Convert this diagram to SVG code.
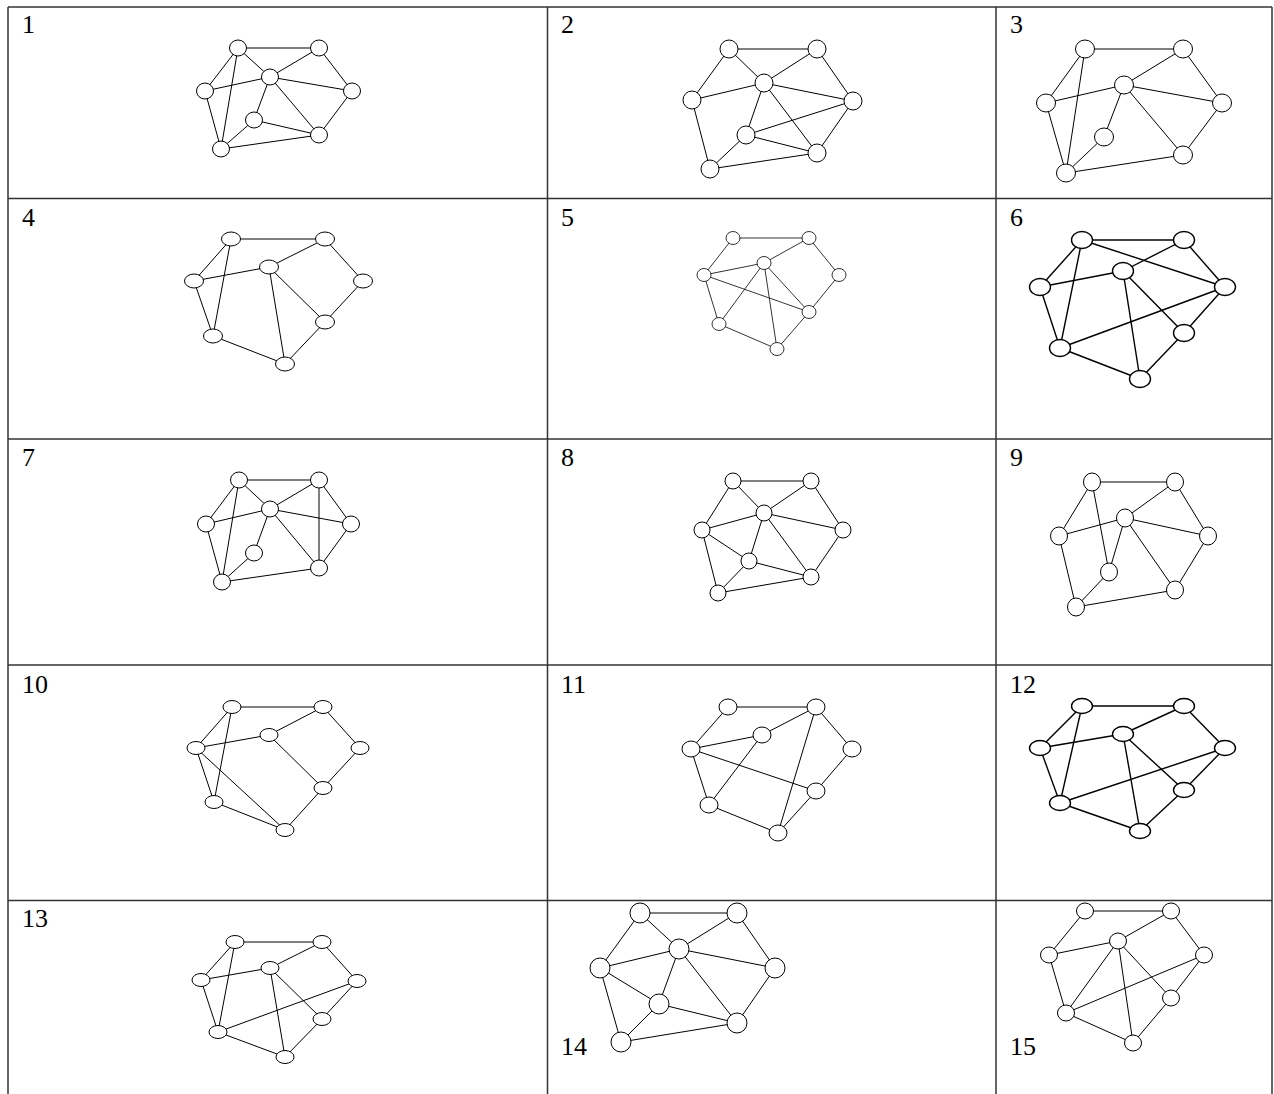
<svg xmlns="http://www.w3.org/2000/svg" width="1274" height="1094" viewBox="0 0 1274 1094">
<style>
.grid{stroke:#333;stroke-width:1.5;fill:none}
.e line{stroke:#000;stroke-width:1}
.n ellipse{fill:#fff;stroke:#000;stroke-width:1}
.thin line{stroke-width:0.8}
.thinn ellipse{stroke-width:0.8}
.thick line{stroke-width:1.4}
.thickn ellipse{stroke-width:1.4}
.lbl{font-family:"Liberation Serif","Times New Roman",serif;font-size:26px;fill:#000}
</style>
<rect width="1274" height="1094" fill="#fff"/>
<g id="table" class="grid">
<line x1="8" y1="7" x2="1272" y2="7"/>
<line x1="8" y1="198.5" x2="1272" y2="198.5"/>
<line x1="8" y1="439" x2="1272" y2="439"/>
<line x1="8" y1="665" x2="1272" y2="665"/>
<line x1="8" y1="900.5" x2="1272" y2="900.5"/>
<line x1="8" y1="7" x2="8" y2="1094"/>
<line x1="547.5" y1="7" x2="547.5" y2="1094"/>
<line x1="996" y1="7" x2="996" y2="1094"/>
<line x1="1272" y1="7" x2="1272" y2="1094"/>
</g>
<g id="labels" class="lbl">
<text x="22" y="33">1</text><text x="561" y="33">2</text><text x="1010" y="33">3</text>
<text x="22" y="226">4</text><text x="561" y="226">5</text><text x="1010" y="226">6</text>
<text x="22" y="466">7</text><text x="561" y="466">8</text><text x="1010" y="466">9</text>
<text x="22" y="693">10</text><text x="561" y="693">11</text><text x="1010" y="693">12</text>
<text x="22" y="927">13</text><text x="561" y="1055">14</text><text x="1010" y="1055">15</text>
</g>

<g id="cell1">
<g id="cell1-connectors" class="e">
<line x1="238" y1="48" x2="319" y2="48"/><line x1="238" y1="48" x2="270" y2="77"/><line x1="238" y1="48" x2="205" y2="91"/><line x1="238" y1="48" x2="221" y2="149"/>
<line x1="205" y1="91" x2="270" y2="77"/><line x1="270" y1="77" x2="319" y2="48"/><line x1="270" y1="77" x2="352" y2="91"/><line x1="319" y1="48" x2="352" y2="91"/>
<line x1="270" y1="77" x2="254" y2="120"/><line x1="270" y1="77" x2="319" y2="135"/><line x1="254" y1="120" x2="221" y2="149"/><line x1="254" y1="120" x2="319" y2="135"/>
<line x1="352" y1="91" x2="319" y2="135"/><line x1="205" y1="91" x2="221" y2="149"/><line x1="221" y1="149" x2="319" y2="135"/>
</g>
<g id="cell1-A" class="n"><ellipse cx="238" cy="48" rx="8.5" ry="8"/></g>
<g id="cell1-B" class="n"><ellipse cx="319" cy="48" rx="8.5" ry="8"/></g>
<g id="cell1-C" class="n"><ellipse cx="270" cy="77" rx="8.5" ry="8"/></g>
<g id="cell1-D" class="n"><ellipse cx="205" cy="91" rx="8.5" ry="8"/></g>
<g id="cell1-E" class="n"><ellipse cx="352" cy="91" rx="8.5" ry="8"/></g>
<g id="cell1-F" class="n"><ellipse cx="254" cy="120" rx="8.5" ry="8"/></g>
<g id="cell1-G" class="n"><ellipse cx="319" cy="135" rx="8.5" ry="8"/></g>
<g id="cell1-H" class="n"><ellipse cx="221" cy="149" rx="8.5" ry="8"/></g>
</g>

<g id="cell2">
<g id="cell2-connectors" class="e">
<line x1="729" y1="49" x2="817" y2="49"/><line x1="729" y1="49" x2="764" y2="83"/><line x1="729" y1="49" x2="692" y2="100"/><line x1="817" y1="49" x2="764" y2="83"/>
<line x1="817" y1="49" x2="853" y2="101"/><line x1="764" y1="83" x2="692" y2="100"/><line x1="764" y1="83" x2="853" y2="101"/><line x1="764" y1="83" x2="746" y2="135"/>
<line x1="764" y1="83" x2="817" y2="153"/><line x1="746" y1="135" x2="853" y2="101"/><line x1="746" y1="135" x2="817" y2="153"/><line x1="746" y1="135" x2="710" y2="169"/>
<line x1="692" y1="100" x2="710" y2="169"/><line x1="853" y1="101" x2="817" y2="153"/><line x1="710" y1="169" x2="817" y2="153"/>
</g>
<g id="cell2-A" class="n"><ellipse cx="729" cy="49" rx="9" ry="9"/></g>
<g id="cell2-B" class="n"><ellipse cx="817" cy="49" rx="9" ry="9"/></g>
<g id="cell2-C" class="n"><ellipse cx="764" cy="83" rx="9" ry="9"/></g>
<g id="cell2-D" class="n"><ellipse cx="692" cy="100" rx="9" ry="9"/></g>
<g id="cell2-E" class="n"><ellipse cx="853" cy="101" rx="9" ry="9"/></g>
<g id="cell2-F" class="n"><ellipse cx="746" cy="135" rx="9" ry="9"/></g>
<g id="cell2-G" class="n"><ellipse cx="817" cy="153" rx="9" ry="9"/></g>
<g id="cell2-H" class="n"><ellipse cx="710" cy="169" rx="9" ry="9"/></g>
</g>

<g id="cell3">
<g id="cell3-connectors" class="e">
<line x1="1085" y1="49" x2="1183" y2="49"/><line x1="1085" y1="49" x2="1046" y2="103"/><line x1="1085" y1="49" x2="1066" y2="173"/><line x1="1183" y1="49" x2="1124" y2="85"/>
<line x1="1183" y1="49" x2="1222" y2="103"/><line x1="1124" y1="85" x2="1046" y2="103"/><line x1="1124" y1="85" x2="1222" y2="103"/><line x1="1124" y1="85" x2="1104" y2="137"/>
<line x1="1124" y1="85" x2="1183" y2="155"/><line x1="1104" y1="137" x2="1066" y2="173"/><line x1="1046" y1="103" x2="1066" y2="173"/><line x1="1222" y1="103" x2="1183" y2="155"/>
<line x1="1066" y1="173" x2="1183" y2="155"/>
</g>
<g id="cell3-A" class="n"><ellipse cx="1085" cy="49" rx="9.5" ry="9"/></g>
<g id="cell3-B" class="n"><ellipse cx="1183" cy="49" rx="9.5" ry="9"/></g>
<g id="cell3-C" class="n"><ellipse cx="1124" cy="85" rx="9.5" ry="9"/></g>
<g id="cell3-D" class="n"><ellipse cx="1046" cy="103" rx="9.5" ry="9"/></g>
<g id="cell3-E" class="n"><ellipse cx="1222" cy="103" rx="9.5" ry="9"/></g>
<g id="cell3-F" class="n"><ellipse cx="1104" cy="137" rx="9.5" ry="9"/></g>
<g id="cell3-G" class="n"><ellipse cx="1183" cy="155" rx="9.5" ry="9"/></g>
<g id="cell3-H" class="n"><ellipse cx="1066" cy="173" rx="9.5" ry="9"/></g>
</g>

<g id="cell4">
<g id="cell4-connectors" class="e">
<line x1="231" y1="239" x2="325" y2="239"/><line x1="231" y1="239" x2="194" y2="281"/><line x1="231" y1="239" x2="213" y2="336"/><line x1="194" y1="281" x2="269" y2="267"/>
<line x1="269" y1="267" x2="325" y2="239"/><line x1="325" y1="239" x2="363" y2="281"/><line x1="363" y1="281" x2="325" y2="322"/><line x1="269" y1="267" x2="325" y2="322"/>
<line x1="269" y1="267" x2="285" y2="364"/><line x1="325" y1="322" x2="285" y2="364"/><line x1="194" y1="281" x2="213" y2="336"/><line x1="213" y1="336" x2="285" y2="364"/>
</g>
<g id="cell4-A" class="n"><ellipse cx="231" cy="239" rx="9.5" ry="7"/></g>
<g id="cell4-B" class="n"><ellipse cx="325" cy="239" rx="9.5" ry="7"/></g>
<g id="cell4-C" class="n"><ellipse cx="269" cy="267" rx="9.5" ry="7"/></g>
<g id="cell4-D" class="n"><ellipse cx="194" cy="281" rx="9.5" ry="7"/></g>
<g id="cell4-E" class="n"><ellipse cx="363" cy="281" rx="9.5" ry="7"/></g>
<g id="cell4-F" class="n"><ellipse cx="325" cy="322" rx="9.5" ry="7"/></g>
<g id="cell4-G" class="n"><ellipse cx="213" cy="336" rx="9.5" ry="7"/></g>
<g id="cell4-H" class="n"><ellipse cx="285" cy="364" rx="9.5" ry="7"/></g>
</g>

<g id="cell5">
<g id="cell5-connectors" class="e thin">
<line x1="733" y1="238" x2="809" y2="238"/><line x1="733" y1="238" x2="704" y2="275"/><line x1="704" y1="275" x2="764" y2="263"/><line x1="764" y1="263" x2="809" y2="238"/>
<line x1="809" y1="238" x2="839" y2="275"/><line x1="839" y1="275" x2="809" y2="312"/><line x1="704" y1="275" x2="809" y2="312"/><line x1="764" y1="263" x2="719" y2="324"/>
<line x1="764" y1="263" x2="777" y2="349"/><line x1="764" y1="263" x2="809" y2="312"/><line x1="704" y1="275" x2="719" y2="324"/><line x1="719" y1="324" x2="777" y2="349"/>
<line x1="809" y1="312" x2="777" y2="349"/>
</g>
<g id="cell5-A" class="n thinn"><ellipse cx="733" cy="238" rx="7" ry="6.5"/></g>
<g id="cell5-B" class="n thinn"><ellipse cx="809" cy="238" rx="7" ry="6.5"/></g>
<g id="cell5-C" class="n thinn"><ellipse cx="764" cy="263" rx="7" ry="6.5"/></g>
<g id="cell5-D" class="n thinn"><ellipse cx="704" cy="275" rx="7" ry="6.5"/></g>
<g id="cell5-E" class="n thinn"><ellipse cx="839" cy="275" rx="7" ry="6.5"/></g>
<g id="cell5-F" class="n thinn"><ellipse cx="809" cy="312" rx="7" ry="6.5"/></g>
<g id="cell5-G" class="n thinn"><ellipse cx="719" cy="324" rx="7" ry="6.5"/></g>
<g id="cell5-H" class="n thinn"><ellipse cx="777" cy="349" rx="7" ry="6.5"/></g>
</g>

<g id="cell6">
<g id="cell6-connectors" class="e thick">
<line x1="1082" y1="240" x2="1184" y2="240"/><line x1="1082" y1="240" x2="1040" y2="287"/><line x1="1082" y1="240" x2="1060" y2="348"/><line x1="1082" y1="240" x2="1225" y2="287"/>
<line x1="1040" y1="287" x2="1123" y2="271"/><line x1="1123" y1="271" x2="1184" y2="240"/><line x1="1184" y1="240" x2="1225" y2="287"/><line x1="1123" y1="271" x2="1140" y2="379"/>
<line x1="1123" y1="271" x2="1184" y2="333"/><line x1="1225" y1="287" x2="1184" y2="333"/><line x1="1225" y1="287" x2="1060" y2="348"/><line x1="1040" y1="287" x2="1060" y2="348"/>
<line x1="1060" y1="348" x2="1140" y2="379"/><line x1="1184" y1="333" x2="1140" y2="379"/>
</g>
<g id="cell6-A" class="n thickn"><ellipse cx="1082" cy="240" rx="10.5" ry="8.5"/></g>
<g id="cell6-B" class="n thickn"><ellipse cx="1184" cy="240" rx="10.5" ry="8.5"/></g>
<g id="cell6-C" class="n thickn"><ellipse cx="1123" cy="271" rx="10.5" ry="8.5"/></g>
<g id="cell6-D" class="n thickn"><ellipse cx="1040" cy="287" rx="10.5" ry="8.5"/></g>
<g id="cell6-E" class="n thickn"><ellipse cx="1225" cy="287" rx="10.5" ry="8.5"/></g>
<g id="cell6-F" class="n thickn"><ellipse cx="1184" cy="333" rx="10.5" ry="8.5"/></g>
<g id="cell6-G" class="n thickn"><ellipse cx="1060" cy="348" rx="10.5" ry="8.5"/></g>
<g id="cell6-H" class="n thickn"><ellipse cx="1140" cy="379" rx="10.5" ry="8.5"/></g>
</g>

<g id="cell7">
<g id="cell7-connectors" class="e">
<line x1="239" y1="480" x2="319" y2="480"/><line x1="239" y1="480" x2="270" y2="509"/><line x1="239" y1="480" x2="206" y2="524"/><line x1="239" y1="480" x2="222" y2="582"/>
<line x1="206" y1="524" x2="270" y2="509"/><line x1="270" y1="509" x2="319" y2="480"/><line x1="270" y1="509" x2="351" y2="524"/><line x1="319" y1="480" x2="351" y2="524"/>
<line x1="319" y1="480" x2="319" y2="568"/><line x1="270" y1="509" x2="254" y2="553"/><line x1="270" y1="509" x2="319" y2="568"/><line x1="254" y1="553" x2="222" y2="582"/>
<line x1="351" y1="524" x2="319" y2="568"/><line x1="206" y1="524" x2="222" y2="582"/><line x1="222" y1="582" x2="319" y2="568"/>
</g>
<g id="cell7-A" class="n"><ellipse cx="239" cy="480" rx="8.5" ry="8"/></g>
<g id="cell7-B" class="n"><ellipse cx="319" cy="480" rx="8.5" ry="8"/></g>
<g id="cell7-C" class="n"><ellipse cx="270" cy="509" rx="8.5" ry="8"/></g>
<g id="cell7-D" class="n"><ellipse cx="206" cy="524" rx="8.5" ry="8"/></g>
<g id="cell7-E" class="n"><ellipse cx="351" cy="524" rx="8.5" ry="8"/></g>
<g id="cell7-F" class="n"><ellipse cx="254" cy="553" rx="8.5" ry="8"/></g>
<g id="cell7-G" class="n"><ellipse cx="319" cy="568" rx="8.5" ry="8"/></g>
<g id="cell7-H" class="n"><ellipse cx="222" cy="582" rx="8.5" ry="8"/></g>
</g>

<g id="cell8">
<g id="cell8-connectors" class="e">
<line x1="733" y1="481" x2="811" y2="481"/><line x1="733" y1="481" x2="764" y2="513"/><line x1="733" y1="481" x2="702" y2="530"/><line x1="811" y1="481" x2="764" y2="513"/>
<line x1="811" y1="481" x2="843" y2="530"/><line x1="764" y1="513" x2="702" y2="530"/><line x1="764" y1="513" x2="843" y2="530"/><line x1="764" y1="513" x2="749" y2="561"/>
<line x1="764" y1="513" x2="811" y2="577"/><line x1="702" y1="530" x2="749" y2="561"/><line x1="702" y1="530" x2="718" y2="593"/><line x1="749" y1="561" x2="718" y2="593"/>
<line x1="749" y1="561" x2="811" y2="577"/><line x1="843" y1="530" x2="811" y2="577"/><line x1="718" y1="593" x2="811" y2="577"/>
</g>
<g id="cell8-A" class="n"><ellipse cx="733" cy="481" rx="8" ry="8"/></g>
<g id="cell8-B" class="n"><ellipse cx="811" cy="481" rx="8" ry="8"/></g>
<g id="cell8-C" class="n"><ellipse cx="764" cy="513" rx="8" ry="8"/></g>
<g id="cell8-D" class="n"><ellipse cx="702" cy="530" rx="8" ry="8"/></g>
<g id="cell8-E" class="n"><ellipse cx="843" cy="530" rx="8" ry="8"/></g>
<g id="cell8-F" class="n"><ellipse cx="749" cy="561" rx="8" ry="8"/></g>
<g id="cell8-G" class="n"><ellipse cx="811" cy="577" rx="8" ry="8"/></g>
<g id="cell8-H" class="n"><ellipse cx="718" cy="593" rx="8" ry="8"/></g>
</g>

<g id="cell9">
<g id="cell9-connectors" class="e">
<line x1="1092" y1="482" x2="1175" y2="482"/><line x1="1092" y1="482" x2="1059" y2="536"/><line x1="1092" y1="482" x2="1109" y2="572"/><line x1="1175" y1="482" x2="1125" y2="518"/>
<line x1="1175" y1="482" x2="1208" y2="536"/><line x1="1125" y1="518" x2="1059" y2="536"/><line x1="1125" y1="518" x2="1208" y2="536"/><line x1="1125" y1="518" x2="1109" y2="572"/>
<line x1="1125" y1="518" x2="1175" y2="590"/><line x1="1109" y1="572" x2="1076" y2="607"/><line x1="1059" y1="536" x2="1076" y2="607"/><line x1="1208" y1="536" x2="1175" y2="590"/>
<line x1="1076" y1="607" x2="1175" y2="590"/>
</g>
<g id="cell9-A" class="n"><ellipse cx="1092" cy="482" rx="8.5" ry="9"/></g>
<g id="cell9-B" class="n"><ellipse cx="1175" cy="482" rx="8.5" ry="9"/></g>
<g id="cell9-C" class="n"><ellipse cx="1125" cy="518" rx="8.5" ry="9"/></g>
<g id="cell9-D" class="n"><ellipse cx="1059" cy="536" rx="8.5" ry="9"/></g>
<g id="cell9-E" class="n"><ellipse cx="1208" cy="536" rx="8.5" ry="9"/></g>
<g id="cell9-F" class="n"><ellipse cx="1109" cy="572" rx="8.5" ry="9"/></g>
<g id="cell9-G" class="n"><ellipse cx="1175" cy="590" rx="8.5" ry="9"/></g>
<g id="cell9-H" class="n"><ellipse cx="1076" cy="607" rx="8.5" ry="9"/></g>
</g>

<g id="cell10">
<g id="cell10-connectors" class="e">
<line x1="232" y1="707" x2="323" y2="707"/><line x1="232" y1="707" x2="196" y2="748"/><line x1="232" y1="707" x2="214" y2="802"/><line x1="196" y1="748" x2="269" y2="735"/>
<line x1="269" y1="735" x2="323" y2="707"/><line x1="323" y1="707" x2="360" y2="748"/><line x1="360" y1="748" x2="323" y2="788"/><line x1="269" y1="735" x2="323" y2="788"/>
<line x1="196" y1="748" x2="285" y2="830"/><line x1="196" y1="748" x2="214" y2="802"/><line x1="214" y1="802" x2="285" y2="830"/><line x1="323" y1="788" x2="285" y2="830"/>
</g>
<g id="cell10-A" class="n"><ellipse cx="232" cy="707" rx="9" ry="6.5"/></g>
<g id="cell10-B" class="n"><ellipse cx="323" cy="707" rx="9" ry="6.5"/></g>
<g id="cell10-C" class="n"><ellipse cx="269" cy="735" rx="9" ry="6.5"/></g>
<g id="cell10-D" class="n"><ellipse cx="196" cy="748" rx="9" ry="6.5"/></g>
<g id="cell10-E" class="n"><ellipse cx="360" cy="748" rx="9" ry="6.5"/></g>
<g id="cell10-F" class="n"><ellipse cx="323" cy="788" rx="9" ry="6.5"/></g>
<g id="cell10-G" class="n"><ellipse cx="214" cy="802" rx="9" ry="6.5"/></g>
<g id="cell10-H" class="n"><ellipse cx="285" cy="830" rx="9" ry="6.5"/></g>
</g>

<g id="cell11">
<g id="cell11-connectors" class="e">
<line x1="728" y1="707" x2="816" y2="707"/><line x1="728" y1="707" x2="691" y2="749"/><line x1="691" y1="749" x2="762" y2="735"/><line x1="762" y1="735" x2="816" y2="707"/>
<line x1="816" y1="707" x2="852" y2="749"/><line x1="816" y1="707" x2="778" y2="833"/><line x1="852" y1="749" x2="816" y2="791"/><line x1="691" y1="749" x2="816" y2="791"/>
<line x1="762" y1="735" x2="709" y2="805"/><line x1="691" y1="749" x2="709" y2="805"/><line x1="709" y1="805" x2="778" y2="833"/><line x1="816" y1="791" x2="778" y2="833"/>
</g>
<g id="cell11-A" class="n"><ellipse cx="728" cy="707" rx="9" ry="8"/></g>
<g id="cell11-B" class="n"><ellipse cx="816" cy="707" rx="9" ry="8"/></g>
<g id="cell11-C" class="n"><ellipse cx="762" cy="735" rx="9" ry="8"/></g>
<g id="cell11-D" class="n"><ellipse cx="691" cy="749" rx="9" ry="8"/></g>
<g id="cell11-E" class="n"><ellipse cx="852" cy="749" rx="9" ry="8"/></g>
<g id="cell11-F" class="n"><ellipse cx="816" cy="791" rx="9" ry="8"/></g>
<g id="cell11-G" class="n"><ellipse cx="709" cy="805" rx="9" ry="8"/></g>
<g id="cell11-H" class="n"><ellipse cx="778" cy="833" rx="9" ry="8"/></g>
</g>

<g id="cell12">
<g id="cell12-connectors" class="e thick">
<line x1="1082" y1="706" x2="1184" y2="706"/><line x1="1082" y1="706" x2="1040" y2="748"/><line x1="1082" y1="706" x2="1060" y2="803"/><line x1="1040" y1="748" x2="1123" y2="734"/>
<line x1="1123" y1="734" x2="1184" y2="706"/><line x1="1184" y1="706" x2="1225" y2="748"/><line x1="1123" y1="734" x2="1140" y2="831"/><line x1="1123" y1="734" x2="1184" y2="790"/>
<line x1="1225" y1="748" x2="1184" y2="790"/><line x1="1225" y1="748" x2="1060" y2="803"/><line x1="1040" y1="748" x2="1060" y2="803"/><line x1="1060" y1="803" x2="1140" y2="831"/>
<line x1="1184" y1="790" x2="1140" y2="831"/>
</g>
<g id="cell12-A" class="n thickn"><ellipse cx="1082" cy="706" rx="10.5" ry="7.5"/></g>
<g id="cell12-B" class="n thickn"><ellipse cx="1184" cy="706" rx="10.5" ry="7.5"/></g>
<g id="cell12-C" class="n thickn"><ellipse cx="1123" cy="734" rx="10.5" ry="7.5"/></g>
<g id="cell12-D" class="n thickn"><ellipse cx="1040" cy="748" rx="10.5" ry="7.5"/></g>
<g id="cell12-E" class="n thickn"><ellipse cx="1225" cy="748" rx="10.5" ry="7.5"/></g>
<g id="cell12-F" class="n thickn"><ellipse cx="1184" cy="790" rx="10.5" ry="7.5"/></g>
<g id="cell12-G" class="n thickn"><ellipse cx="1060" cy="803" rx="10.5" ry="7.5"/></g>
<g id="cell12-H" class="n thickn"><ellipse cx="1140" cy="831" rx="10.5" ry="7.5"/></g>
</g>

<g id="cell13">
<g id="cell13-connectors" class="e">
<line x1="235" y1="942" x2="322" y2="942"/><line x1="235" y1="942" x2="201" y2="980"/><line x1="235" y1="942" x2="218" y2="1032"/><line x1="201" y1="980" x2="270" y2="968"/>
<line x1="270" y1="968" x2="322" y2="942"/><line x1="322" y1="942" x2="357" y2="981"/><line x1="357" y1="981" x2="322" y2="1019"/><line x1="357" y1="981" x2="218" y2="1032"/>
<line x1="270" y1="968" x2="285" y2="1057"/><line x1="270" y1="968" x2="322" y2="1019"/><line x1="201" y1="980" x2="218" y2="1032"/><line x1="218" y1="1032" x2="285" y2="1057"/>
<line x1="322" y1="1019" x2="285" y2="1057"/>
</g>
<g id="cell13-A" class="n"><ellipse cx="235" cy="942" rx="9" ry="6.5"/></g>
<g id="cell13-B" class="n"><ellipse cx="322" cy="942" rx="9" ry="6.5"/></g>
<g id="cell13-C" class="n"><ellipse cx="270" cy="968" rx="9" ry="6.5"/></g>
<g id="cell13-D" class="n"><ellipse cx="201" cy="980" rx="9" ry="6.5"/></g>
<g id="cell13-E" class="n"><ellipse cx="357" cy="981" rx="9" ry="6.5"/></g>
<g id="cell13-F" class="n"><ellipse cx="322" cy="1019" rx="9" ry="6.5"/></g>
<g id="cell13-G" class="n"><ellipse cx="218" cy="1032" rx="9" ry="6.5"/></g>
<g id="cell13-H" class="n"><ellipse cx="285" cy="1057" rx="9" ry="6.5"/></g>
</g>

<g id="cell14">
<g id="cell14-connectors" class="e">
<line x1="640" y1="913" x2="737" y2="913"/><line x1="640" y1="913" x2="679" y2="949"/><line x1="640" y1="913" x2="600" y2="968"/><line x1="737" y1="913" x2="679" y2="949"/>
<line x1="737" y1="913" x2="775" y2="968"/><line x1="679" y1="949" x2="600" y2="968"/><line x1="679" y1="949" x2="775" y2="968"/><line x1="679" y1="949" x2="659" y2="1004"/>
<line x1="679" y1="949" x2="737" y2="1023"/><line x1="600" y1="968" x2="659" y2="1004"/><line x1="600" y1="968" x2="621" y2="1042"/><line x1="659" y1="1004" x2="621" y2="1042"/>
<line x1="659" y1="1004" x2="737" y2="1023"/><line x1="775" y1="968" x2="737" y2="1023"/><line x1="621" y1="1042" x2="737" y2="1023"/>
</g>
<g id="cell14-A" class="n"><ellipse cx="640" cy="913" rx="10" ry="10"/></g>
<g id="cell14-B" class="n"><ellipse cx="737" cy="913" rx="10" ry="10"/></g>
<g id="cell14-C" class="n"><ellipse cx="679" cy="949" rx="10" ry="10"/></g>
<g id="cell14-D" class="n"><ellipse cx="600" cy="968" rx="10" ry="10"/></g>
<g id="cell14-E" class="n"><ellipse cx="775" cy="968" rx="10" ry="10"/></g>
<g id="cell14-F" class="n"><ellipse cx="659" cy="1004" rx="10" ry="10"/></g>
<g id="cell14-G" class="n"><ellipse cx="737" cy="1023" rx="10" ry="10"/></g>
<g id="cell14-H" class="n"><ellipse cx="621" cy="1042" rx="10" ry="10"/></g>
</g>

<g id="cell15">
<g id="cell15-connectors" class="e">
<line x1="1085" y1="911" x2="1171" y2="911"/><line x1="1085" y1="911" x2="1049" y2="955"/><line x1="1049" y1="955" x2="1118" y2="941"/><line x1="1118" y1="941" x2="1171" y2="911"/>
<line x1="1171" y1="911" x2="1204" y2="955"/><line x1="1118" y1="941" x2="1066" y2="1013"/><line x1="1118" y1="941" x2="1133" y2="1043"/><line x1="1118" y1="941" x2="1171" y2="998"/>
<line x1="1204" y1="955" x2="1171" y2="998"/><line x1="1204" y1="955" x2="1066" y2="1013"/><line x1="1049" y1="955" x2="1066" y2="1013"/><line x1="1066" y1="1013" x2="1133" y2="1043"/>
<line x1="1171" y1="998" x2="1133" y2="1043"/>
</g>
<g id="cell15-A" class="n"><ellipse cx="1085" cy="911" rx="8.5" ry="8"/></g>
<g id="cell15-B" class="n"><ellipse cx="1171" cy="911" rx="8.5" ry="8"/></g>
<g id="cell15-C" class="n"><ellipse cx="1118" cy="941" rx="8.5" ry="8"/></g>
<g id="cell15-D" class="n"><ellipse cx="1049" cy="955" rx="8.5" ry="8"/></g>
<g id="cell15-E" class="n"><ellipse cx="1204" cy="955" rx="8.5" ry="8"/></g>
<g id="cell15-F" class="n"><ellipse cx="1171" cy="998" rx="8.5" ry="8"/></g>
<g id="cell15-G" class="n"><ellipse cx="1066" cy="1013" rx="8.5" ry="8"/></g>
<g id="cell15-H" class="n"><ellipse cx="1133" cy="1043" rx="8.5" ry="8"/></g>
</g>
</svg>
